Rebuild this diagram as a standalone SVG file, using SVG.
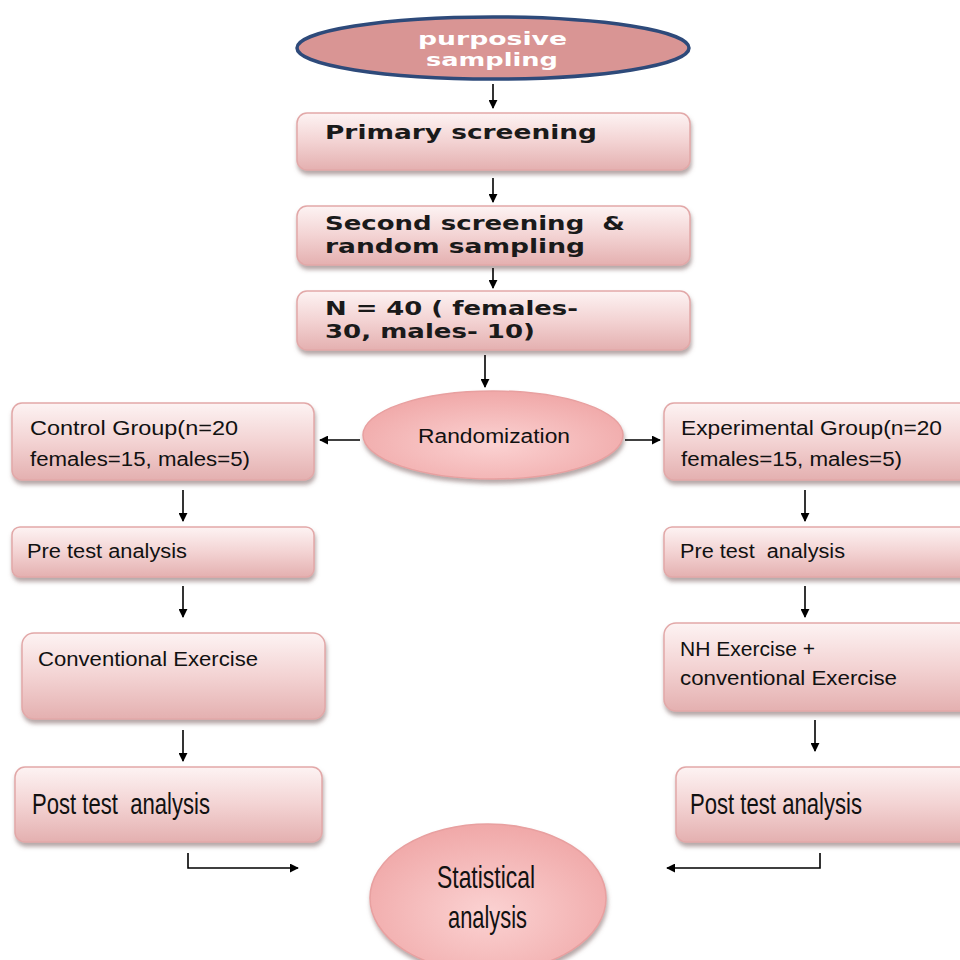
<svg xmlns="http://www.w3.org/2000/svg" width="960" height="960" viewBox="0 0 960 960">
<defs>
<linearGradient id="boxG" x1="0" y1="0" x2="0" y2="1">
<stop offset="0" stop-color="#fdf3f3"/>
<stop offset="0.5" stop-color="#f3d3d3"/>
<stop offset="1" stop-color="#e4b0b0"/>
</linearGradient>
<radialGradient id="ellG" cx="0.5" cy="0.6" r="0.6">
<stop offset="0" stop-color="#fbd2d2"/>
<stop offset="1" stop-color="#f0a8a8"/>
</radialGradient>
<filter id="sh" x="-10%" y="-10%" width="130%" height="140%">
<feDropShadow dx="1" dy="4" stdDeviation="2" flood-color="#7a6060" flood-opacity="0.55"/>
</filter>
<marker id="ah" viewBox="0 0 10 10" refX="9" refY="5" markerWidth="9" markerHeight="9" markerUnits="userSpaceOnUse" orient="auto">
<path d="M0,0 L10,5 L0,10 z" fill="#000"/>
</marker>
</defs>
<style>
text{white-space:pre}
.box{fill:url(#boxG);stroke:#e2a8a8;stroke-width:1.5;filter:url(#sh)}
.ell{fill:url(#ellG);stroke:#e8a0a0;stroke-width:1.5;filter:url(#sh)}
.v{font-family:"DejaVu Sans",Verdana,sans-serif;font-weight:bold;font-size:19px;fill:#1a1a1a}
.w{font-family:"DejaVu Sans",Verdana,sans-serif;font-weight:bold;font-size:17px;fill:#fff}
.c{font-family:"Liberation Sans",Arial,sans-serif;font-size:20px;fill:#111}
.n{font-family:"Liberation Sans",Arial,sans-serif;font-size:29px;fill:#111}
.conn line,.conn polyline{stroke:#000;stroke-width:1.6;fill:none;marker-end:url(#ah)}
</style>
<rect width="960" height="960" fill="#fff"/>

<g id="purposive">
<ellipse cx="493" cy="48" rx="196" ry="31" fill="#d99594" stroke="#2e4a7a" stroke-width="3.5"/>
<text class="w" x="418" y="45" textLength="149" lengthAdjust="spacingAndGlyphs">purposive</text>
<text class="w" x="426" y="66" textLength="132" lengthAdjust="spacingAndGlyphs">sampling</text>
</g>

<g id="primary">
<rect class="box" x="297" y="113" width="393" height="57" rx="10"/>
<text class="v" x="325" y="139" textLength="272" lengthAdjust="spacingAndGlyphs">Primary screening</text>
</g>

<g id="second">
<rect class="box" x="297" y="206" width="393" height="59" rx="10"/>
<text class="v" x="325" y="230" textLength="300" lengthAdjust="spacingAndGlyphs">Second screening  &amp;</text>
<text class="v" x="325" y="253" textLength="260" lengthAdjust="spacingAndGlyphs">random sampling</text>
</g>

<g id="n40">
<rect class="box" x="297" y="291" width="393" height="59" rx="10"/>
<text class="v" x="325" y="315" textLength="253" lengthAdjust="spacingAndGlyphs">N = 40 ( females-</text>
<text class="v" x="325" y="338" textLength="210" lengthAdjust="spacingAndGlyphs">30, males- 10)</text>
</g>

<g id="randomization">
<ellipse class="ell" cx="493" cy="435" rx="130" ry="44"/>
<text class="c" x="418" y="443" textLength="152" lengthAdjust="spacingAndGlyphs">Randomization</text>
</g>

<g id="control">
<rect class="box" x="12" y="403" width="302" height="77" rx="10"/>
<text class="c" x="30" y="435" textLength="208" lengthAdjust="spacingAndGlyphs">Control Group(n=20</text>
<text class="c" x="30" y="466" textLength="220" lengthAdjust="spacingAndGlyphs">females=15, males=5)</text>
</g>

<g id="experimental">
<rect class="box" x="664" y="403" width="310" height="77" rx="10"/>
<text class="c" x="681" y="435" textLength="261" lengthAdjust="spacingAndGlyphs">Experimental Group(n=20</text>
<text class="c" x="681" y="466" textLength="221" lengthAdjust="spacingAndGlyphs">females=15, males=5)</text>
</g>

<g id="pretest-left">
<rect class="box" x="12" y="527" width="302" height="50" rx="8"/>
<text class="c" x="27" y="558" textLength="160" lengthAdjust="spacingAndGlyphs">Pre test analysis</text>
</g>

<g id="pretest-right">
<rect class="box" x="664" y="527" width="310" height="50" rx="8"/>
<text class="c" x="680" y="558" textLength="165" lengthAdjust="spacingAndGlyphs">Pre test  analysis</text>
</g>

<g id="conventional">
<rect class="box" x="22" y="633" width="303" height="86" rx="12"/>
<text class="c" x="38" y="666" textLength="220" lengthAdjust="spacingAndGlyphs">Conventional Exercise</text>
</g>

<g id="nh">
<rect class="box" x="664" y="623" width="310" height="88" rx="12"/>
<text class="c" x="680" y="656" textLength="135" lengthAdjust="spacingAndGlyphs">NH Exercise +</text>
<text class="c" x="680" y="685" textLength="217" lengthAdjust="spacingAndGlyphs">conventional Exercise</text>
</g>

<g id="posttest-left">
<rect class="box" x="15" y="767" width="307" height="75" rx="10"/>
<text class="n" x="32" y="814" textLength="178" lengthAdjust="spacingAndGlyphs">Post test  analysis</text>
</g>

<g id="posttest-right">
<rect class="box" x="676" y="767" width="298" height="75" rx="10"/>
<text class="n" x="690" y="814" textLength="172" lengthAdjust="spacingAndGlyphs">Post test analysis</text>
</g>

<g id="statistical">
<ellipse class="ell" cx="488" cy="898" rx="118" ry="74"/>
<text class="n" x="437" y="888" style="font-size:32px" textLength="98" lengthAdjust="spacingAndGlyphs">Statistical</text>
<text class="n" x="448" y="928" style="font-size:32px" textLength="79" lengthAdjust="spacingAndGlyphs">analysis</text>
</g>

<g id="connectors" class="conn">
<line x1="493" y1="84" x2="493" y2="108"/>
<line x1="493" y1="178" x2="493" y2="202"/>
<line x1="493" y1="268" x2="493" y2="288"/>
<line x1="485" y1="355" x2="485" y2="387"/>
<line x1="360" y1="440" x2="320" y2="440"/>
<line x1="625" y1="440" x2="660" y2="440"/>
<line x1="183" y1="490" x2="183" y2="521"/>
<line x1="805" y1="490" x2="805" y2="521"/>
<line x1="183" y1="586" x2="183" y2="617"/>
<line x1="805" y1="586" x2="805" y2="617"/>
<line x1="183" y1="730" x2="183" y2="761"/>
<line x1="815" y1="720" x2="815" y2="751"/>
<polyline points="188,853 188,868 298,868"/>
<polyline points="820,853 820,868 667,868"/>
</g>
</svg>
